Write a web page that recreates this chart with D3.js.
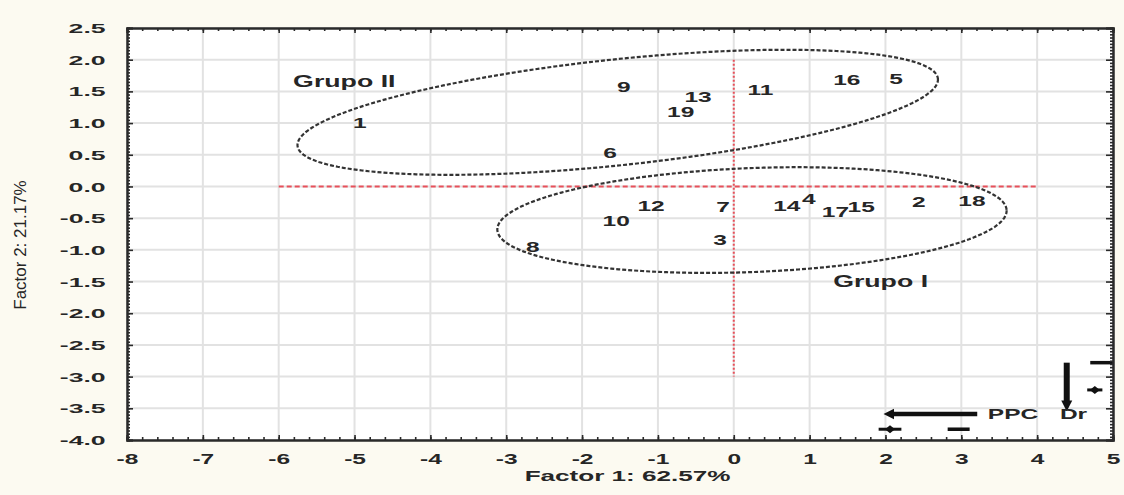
<!DOCTYPE html>
<html>
<head>
<meta charset="utf-8">
<script src="https://cdn.jsdelivr.net/npm/d3@7/dist/d3.min.js"></script>
<style>
  body { margin: 0; background: #fcfaf1; }
  svg { display: block; }
  text { font-family: "Liberation Sans", Arial, sans-serif; fill: #262626; }
</style>
</head>
<body>
<svg id="chart"></svg>
<script>
// tick labels
const xTickValues = [-8, -7, -6, -5, -4, -3, -2, -1, 0, 1, 2, 3, 4, 5]
const yTickValues = [-4, -3.5, -3, -2.5, -2, -1.5, -1, -0.5, 0, 0.5, 1, 1.5, 2, 2.5]

// factor scores of the samples
const sampleIds = ['1', '2', '3', '4', '5', '6', '7', '8', '9', '10', '11', '12', '13', '14', '15', '16', '17', '18', '19']
const factor1 = [-4.93, 2.44, -0.18, 0.99, 2.14, -1.63, -0.14, -2.65, -1.45, -1.55, 0.35, -1.09, -0.47, 0.70, 1.68, 1.49, 1.34, 3.14, -0.70]
const factor2 = [1.00, -0.24, -0.84, -0.20, 1.70, 0.53, -0.32, -0.95, 1.57, -0.54, 1.52, -0.31, 1.41, -0.31, -0.32, 1.68, -0.40, -0.23, 1.175]

// group ellipses: centre, half axes (axis units), tilt (deg)
const groupNames = ['Grupo I', 'Grupo II']
const groupCx = [0.24, -1.53]
const groupCy = [-0.53, 1.17]
const groupRx = [3.36, 4.245]
const groupRy = [0.82, 0.836]
const groupTilt = [-2.2, -6]
const groupLabelX = [1.31, -5.81]
const groupLabelY = [-1.5, 1.65]

// origin cross
const crossX = [-6, 4]
const crossY = [2, -3]

// variable arrows (PPC, Dr)
const vectorNames = ['PPC', 'Dr']
const vectorX0 = [3.21, 4.39]
const vectorY0 = [-3.59, -2.78]
const vectorX1 = [2.09, 4.39]
const vectorY1 = [-3.59, -3.41]
const vectorLabelX = [3.35, 4.30]
const vectorLabelY = [-3.59, -3.59]
// stray marks next to the arrows
const dashX0 = [4.70, 2.82]
const dashX1 = [5.0, 3.11]
const dashY = [-2.78, -3.83]
const knotX = [4.76, 2.06]
const knotY = [-3.21, -3.83]
const knotHalf = [0.1, 0.15]

const W = 1124, H = 495
const margin = { top: 28, right: 11, bottom: 55, left: 127 }

const svg = d3.select('#chart').attr('width', W).attr('height', H)

const x = d3.scaleLinear().domain([-8, 5]).range([margin.left, W - margin.right])
const y = d3.scaleLinear().domain([-4, 2.5]).range([H - margin.bottom, margin.top])

// plain hyphen for negatives, like the original
const fmtX = d => String(d)
const fmtY = d => d3.format('.1f')(d).replace('−', '-')

// plot background
svg.append('rect')
	.attr('x', x(-8)).attr('y', y(2.5))
	.attr('width', x(5) - x(-8)).attr('height', y(-4) - y(2.5))
	.attr('fill', '#ffffff')

// grid
svg.append('g').selectAll('line').data(xTickValues).join('line')
	.attr('x1', d => x(d)).attr('x2', d => x(d))
	.attr('y1', y(2.5)).attr('y2', y(-4))
	.attr('stroke', '#e2e2e2').attr('stroke-width', 2)
svg.append('g').selectAll('line').data(yTickValues).join('line')
	.attr('x1', x(-8)).attr('x2', x(5))
	.attr('y1', d => y(d)).attr('y2', d => y(d))
	.attr('stroke', '#e2e2e2').attr('stroke-width', 2)

// red dashed cross at the origin
svg.append('line')
	.attr('x1', x(crossX[0])).attr('x2', x(crossX[1]))
	.attr('y1', y(0)).attr('y2', y(0))
	.attr('stroke', '#e8505a').attr('stroke-width', 2)
	.attr('stroke-dasharray', '5,3')
svg.append('line')
	.attr('x1', x(0)).attr('x2', x(0))
	.attr('y1', y(crossY[0])).attr('y2', y(crossY[1]))
	.attr('stroke', '#e8505a').attr('stroke-width', 2)
	.attr('stroke-dasharray', '2,2')

// ellipses
const ellipse = d3.line().curve(d3.curveLinearClosed)
groupNames.forEach((name, i) => {
	const cx = x(groupCx[i]), cy = y(groupCy[i])
	const a = x(groupRx[i]) - x(0), b = y(0) - y(groupRy[i])
	const th = groupTilt[i] * Math.PI / 180
	const pts = d3.range(0, 360, 2).map(deg => {
		const t = deg * Math.PI / 180
		const u = a * Math.cos(t), v = b * Math.sin(t)
		return [cx + u * Math.cos(th) - v * Math.sin(th), cy + u * Math.sin(th) + v * Math.cos(th)]
	})
	svg.append('path')
		.attr('d', ellipse(pts))
		.attr('fill', 'none')
		.attr('stroke', '#333').attr('stroke-width', 2.2)
		.attr('stroke-dasharray', '4,2')

	svg.append('text')
		.attr('transform', `translate(${x(groupLabelX[i])},${y(groupLabelY[i])}) scale(1.67,1)`)
		.attr('dy', '0.35em')
		.attr('font-size', 16).attr('font-weight', 'bold')
		.text(name)
})

// sample labels
svg.append('g').selectAll('text').data(sampleIds).join('text')
	.attr('transform', (d, i) => `translate(${x(factor1[i])},${y(factor2[i])}) scale(1.75,1)`)
	.attr('text-anchor', 'middle').attr('dy', '0.35em')
	.attr('font-size', 14).attr('font-weight', 'bold')
	.attr('fill', '#333')
	.text(d => d)

// arrows
const defs = svg.append('defs')
defs.append('marker')
	.attr('id', 'head').attr('viewBox', '0 0 10 10')
	.attr('refX', 2).attr('refY', 5)
	.attr('markerWidth', 11).attr('markerHeight', 12)
	.attr('markerUnits', 'userSpaceOnUse')
	.attr('orient', 'auto')
	.append('path').attr('d', 'M0,0 L10,5 L0,10 Z').attr('fill', '#111')

vectorNames.forEach((name, i) => {
	svg.append('line')
		.attr('x1', x(vectorX0[i])).attr('y1', y(vectorY0[i]))
		.attr('x2', x(vectorX1[i])).attr('y2', y(vectorY1[i]))
		.attr('stroke', '#111').attr('stroke-width', i === 0 ? 4.5 : 6)
		.attr('marker-end', 'url(#head)')
	svg.append('text')
		.attr('transform', `translate(${x(vectorLabelX[i])},${y(vectorLabelY[i])}) scale(1.75,1)`)
		.attr('dy', '0.35em')
		.attr('font-size', 14).attr('font-weight', 'bold')
		.attr('fill', '#111')
		.text(name)
})

dashX0.forEach((d, i) => {
	svg.append('line')
		.attr('x1', x(d)).attr('x2', x(dashX1[i]))
		.attr('y1', y(dashY[i])).attr('y2', y(dashY[i]))
		.attr('stroke', '#111').attr('stroke-width', 3.5)
})
knotX.forEach((d, i) => {
	const cx = x(d), cy = y(knotY[i])
	svg.append('line')
		.attr('x1', x(d - knotHalf[i])).attr('x2', x(d + knotHalf[i]))
		.attr('y1', cy).attr('y2', cy)
		.attr('stroke', '#111').attr('stroke-width', 3)
	svg.append('path')
		.attr('d', `M${cx - 5},${cy} L${cx},${cy - 4} L${cx + 5},${cy} L${cx},${cy + 4} Z`)
		.attr('fill', '#111')
})

// axes: frame with inward ticks on all four sides
const frame = svg.append('g')
const minorX = d3.range(-8, 5.001, 0.2)
const minorY = d3.range(-4, 2.501, 0.05)

frame.append('g').attr('transform', `translate(0,${y(-4)})`)
	.call(d3.axisBottom(x).tickValues(minorX).tickSize(-3).tickFormat(''))
frame.append('g').attr('transform', `translate(0,${y(2.5)})`)
	.call(d3.axisTop(x).tickValues(minorX).tickSize(-3).tickFormat(''))
frame.append('g').attr('transform', `translate(${x(-8)},0)`)
	.call(d3.axisLeft(y).tickValues(minorY).tickSize(-3).tickFormat(''))
frame.append('g').attr('transform', `translate(${x(5)},0)`)
	.call(d3.axisRight(y).tickValues(minorY).tickSize(-3).tickFormat(''))

const bottomAxis = frame.append('g').attr('transform', `translate(0,${y(-4)})`)
	.call(d3.axisBottom(x).tickValues(xTickValues).tickSize(-5).tickFormat(fmtX))
bottomAxis.selectAll('text')
	.attr('y', 19).attr('dy', '0.35em')
	.attr('transform', 'scale(1.75,1)')
	.attr('font-size', 14).attr('font-weight', 'bold')
	.attr('font-family', '"Liberation Sans", Arial, sans-serif')
	.attr('fill', '#333')

const leftAxis = frame.append('g').attr('transform', `translate(${x(-8)},0)`)
	.call(d3.axisLeft(y).tickValues(yTickValues).tickSize(-6).tickFormat(fmtY))
leftAxis.selectAll('text')
	.attr('x', -7).attr('dy', '0.35em')
	.attr('transform', 'translate(-7,0) scale(2.05,1)')
	.attr('font-size', 13).attr('font-weight', 'bold')
	.attr('font-family', '"Liberation Sans", Arial, sans-serif')
	.attr('fill', '#333')

frame.append('g').attr('transform', `translate(0,${y(2.5)})`)
	.call(d3.axisTop(x).tickValues(xTickValues).tickSize(-5).tickFormat(''))
frame.append('g').attr('transform', `translate(${x(5)},0)`)
	.call(d3.axisRight(y).tickValues(yTickValues).tickSize(-7).tickFormat(''))

frame.selectAll('.domain').attr('stroke', '#2a2a2a').attr('stroke-width', 2)
frame.selectAll('.tick line').attr('stroke', '#2a2a2a').attr('stroke-width', 1.6)

// axis titles
svg.append('text')
	.attr('transform', `translate(${x(-1.4)},${H - 19}) scale(1.74,1)`)
	.attr('text-anchor', 'middle').attr('dy', '0.35em')
	.attr('font-size', 15).attr('font-weight', 'bold')
	.attr('fill', '#333')
	.text('Factor 1: 62.57%')

svg.append('text')
	.attr('transform', `translate(20,${(y(-4) + y(2.5)) / 2 + 11}) rotate(-90)`)
	.attr('text-anchor', 'middle').attr('dy', '0.35em')
	.attr('font-size', 17)
	.attr('fill', '#333')
	.text('Factor 2: 21.17%')
</script>
</body>
</html>
